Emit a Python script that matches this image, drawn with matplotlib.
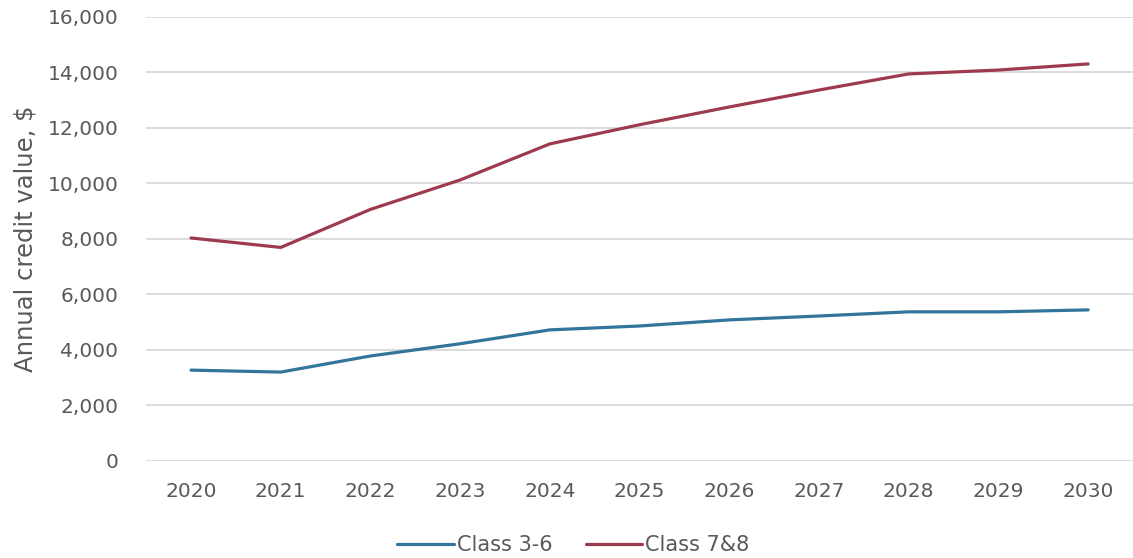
import numpy as np
import matplotlib
matplotlib.use('Agg')
import matplotlib.pyplot as plt

years = ['2020', '2021', '2022', '2023', '2024', '2025', '2026', '2027', '2028', '2029', '2030']
class_3_6 = [3270, 3200, 3780, 4220, 4720, 4860, 5080, 5220, 5370, 5370, 5440]
class_7_8 = [8030, 7690, 9060, 10120, 11420, 12110, 12750, 13360, 13940, 14080, 14300]
y_ticks = [0, 2000, 4000, 6000, 8000, 10000, 12000, 14000, 16000]

grey = '#595959'
plt.rcParams['font.family'] = ['DejaVu Sans']

fig = plt.figure(figsize=(11.33, 5.58), dpi=100)
ax = fig.add_axes([0.129, 0.174, 0.871, 0.796])

x = np.arange(len(years))
ax.plot(x, class_3_6, color='#31759B', linewidth=2.3, label='Class 3-6', solid_capstyle='round')
ax.plot(x, class_7_8, color='#9E3A4D', linewidth=2.3, label='Class 7&8', solid_capstyle='round')

ax.set_xlim(-0.5, len(years) - 0.5)
ax.set_ylim(0, 16000)
ax.set_yticks(y_ticks)
ax.set_yticklabels(['{:,}'.format(v) for v in y_ticks])
ax.set_xticks(x)
ax.set_xticklabels(years)
ax.grid(axis='y', color='#D9D9D9', linewidth=1.3)
ax.set_axisbelow(True)
for s in ax.spines.values():
    s.set_visible(False)
ax.tick_params(length=0, labelsize=14.5, colors=grey)
ax.tick_params(axis='y', pad=20)
ax.tick_params(axis='x', pad=15)
ax.set_ylabel('Annual credit value, $', fontsize=17.5, color=grey, labelpad=7)

ax.legend(loc='center', bbox_to_anchor=(0.433, -0.19), ncol=2, frameon=False,
          fontsize=15, labelcolor=grey, handlelength=2.7, handletextpad=0.15, columnspacing=1.6)

fig.savefig('out.png', dpi=100)
